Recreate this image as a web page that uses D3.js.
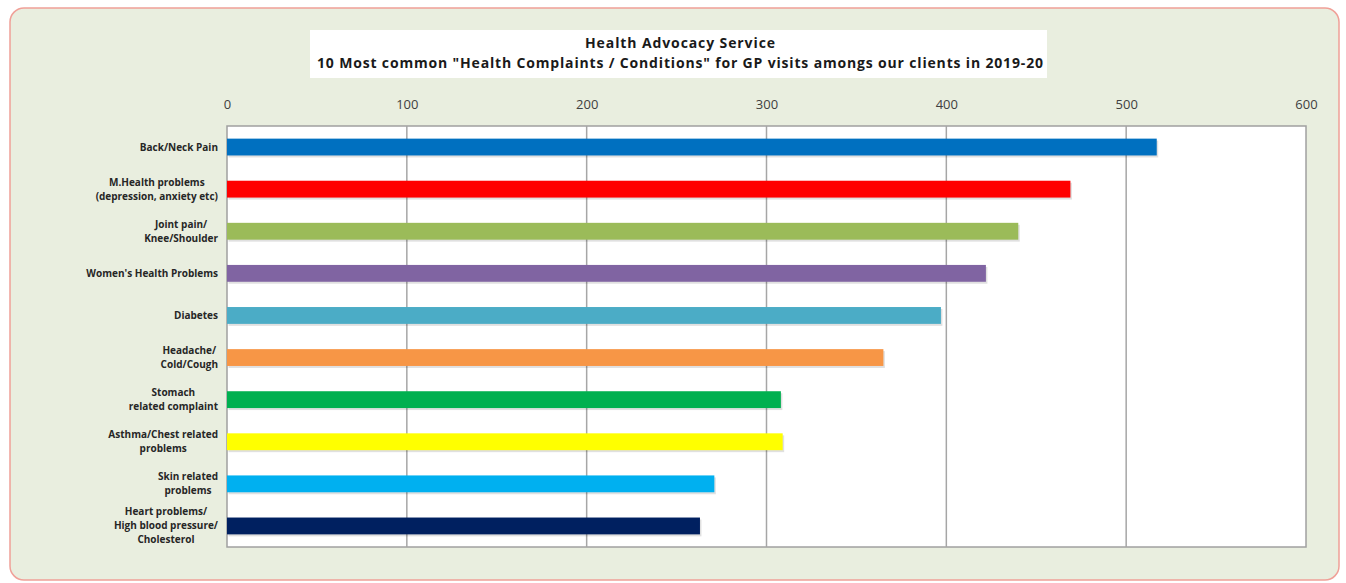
<!DOCTYPE html>
<html>
<head>
<meta charset="utf-8">
<script src="https://cdn.jsdelivr.net/npm/d3@7"></script>
<style>
  body { margin: 0; background: #fff; }
  svg { display: block; }
</style>
</head>
<body>
<svg width="1346" height="583"></svg>
<script>
// data
const categories = [
    'Back/Neck Pain',
    'M.Health problems|(depression, anxiety etc)',
    'Joint pain/|Knee/Shoulder',
    "Women's Health Problems",
    'Diabetes',
    'Headache/|Cold/Cough',
    'Stomach|related complaint',
    'Asthma/Chest related|problems',
    'Skin related|problems',
    'Heart problems/|High blood pressure/|Cholesterol'
];
const values = [517, 469, 440, 422, 397, 365, 308, 309, 271, 263];
const colors = ['#0070c0', '#ff0000', '#9bbb59', '#8064a2', '#4bacc6',
    '#f79646', '#00b050', '#ffff00', '#00b0f0', '#002060'];
const ticks = [0, 100, 200, 300, 400, 500, 600];
const titleLines = ['Health Advocacy Service',
    '10 Most common "Health Complaints / Conditions" for GP visits amongs our clients in 2019-20'];

const data = categories.map((c, i) => ({ cat: c, value: values[i], fill: colors[i] }));

const svg = d3.select('svg');

// outer panel
svg.append('rect')
    .attr('x', 10).attr('y', 8)
    .attr('width', 1329).attr('height', 572)
    .attr('rx', 14)
    .attr('fill', '#e9eedf')
    .attr('stroke', '#f0a098')
    .attr('stroke-width', 1.5);

const margin = { left: 227, right: 40, top: 126, bottom: 36 };
const plotW = 1306 - margin.left;
const plotH = 547 - margin.top;

const x = d3.scaleLinear().domain([0, 600]).range([0, plotW]);
const y = d3.scaleBand().domain(categories).range([0, plotH]).paddingInner(0.6).paddingOuter(0.3);

const g = svg.append('g').attr('transform', `translate(${margin.left},${margin.top})`);

// plot background
g.append('rect')
    .attr('width', plotW).attr('height', plotH)
    .attr('fill', '#ffffff')
    .attr('stroke', '#a0a0a0')
    .attr('stroke-width', 1.5);

// gridlines
g.selectAll('.grid')
    .data(ticks.slice(1, -1))
    .enter()
    .append('line')
    .attr('x1', d => x(d)).attr('x2', d => x(d))
    .attr('y1', 0).attr('y2', plotH)
    .attr('stroke', '#a6a6a6')
    .attr('stroke-width', 1.5);

// top axis labels
const axis = g.append('g')
    .attr('transform', 'translate(0,-17)')
    .call(d3.axisTop(x).tickValues(ticks).tickSize(0).tickPadding(0));
axis.select('.domain').remove();
axis.selectAll('text')
    .attr('font-family', 'Open Sans, sans-serif')
    .attr('font-size', 13)
    .attr('fill', '#404040');

// bar shadows + bars
g.selectAll('.shadow')
    .data(data)
    .enter()
    .append('rect')
    .attr('x', 1.5)
    .attr('y', d => y(d.cat) + 2)
    .attr('width', d => x(d.value))
    .attr('height', y.bandwidth())
    .attr('fill', '#000')
    .attr('opacity', 0.12);

g.selectAll('.bar')
    .data(data)
    .enter()
    .append('rect')
    .attr('x', 0)
    .attr('y', d => y(d.cat))
    .attr('width', d => x(d.value))
    .attr('height', y.bandwidth())
    .attr('fill', d => d.fill);

// category labels, lines centred on each other, block right aligned
const labelRight = -9;
const lineH = 14;
data.forEach(d => {
    const lines = d.cat.split('|');
    const t = g.append('text')
        .attr('font-family', 'Open Sans, sans-serif')
        .attr('font-weight', 'bold')
        .attr('font-size', 10)
        .attr('fill', '#262626')
        .attr('text-anchor', 'middle');
    const cy = y(d.cat) + y.bandwidth() / 2;
    const spans = lines.map((l, i) => t.append('tspan')
        .attr('y', cy + (i - (lines.length - 1) / 2) * lineH + 3.5)
        .text(l));
    const w = d3.max(spans, s => s.node().getComputedTextLength());
    spans.forEach(s => s.attr('x', labelRight - w / 2));
});

// title box
svg.append('rect')
    .attr('x', 310).attr('y', 30)
    .attr('width', 737).attr('height', 48)
    .attr('fill', '#ffffff');

// title: Calibri-like width, stretched a little
const titleWidths = [190, 726];
svg.selectAll('.title')
    .data(titleLines)
    .enter()
    .append('text')
    .attr('x', 680)
    .attr('y', (d, i) => 48 + i * 20)
    .attr('text-anchor', 'middle')
    .attr('font-family', 'Open Sans, sans-serif')
    .attr('font-weight', 'bold')
    .attr('font-size', 14)
    .attr('textLength', (d, i) => titleWidths[i])
    .attr('lengthAdjust', 'spacing')
    .attr('fill', '#1a1a1a')
    .text(d => d);
</script>
</body>
</html>
